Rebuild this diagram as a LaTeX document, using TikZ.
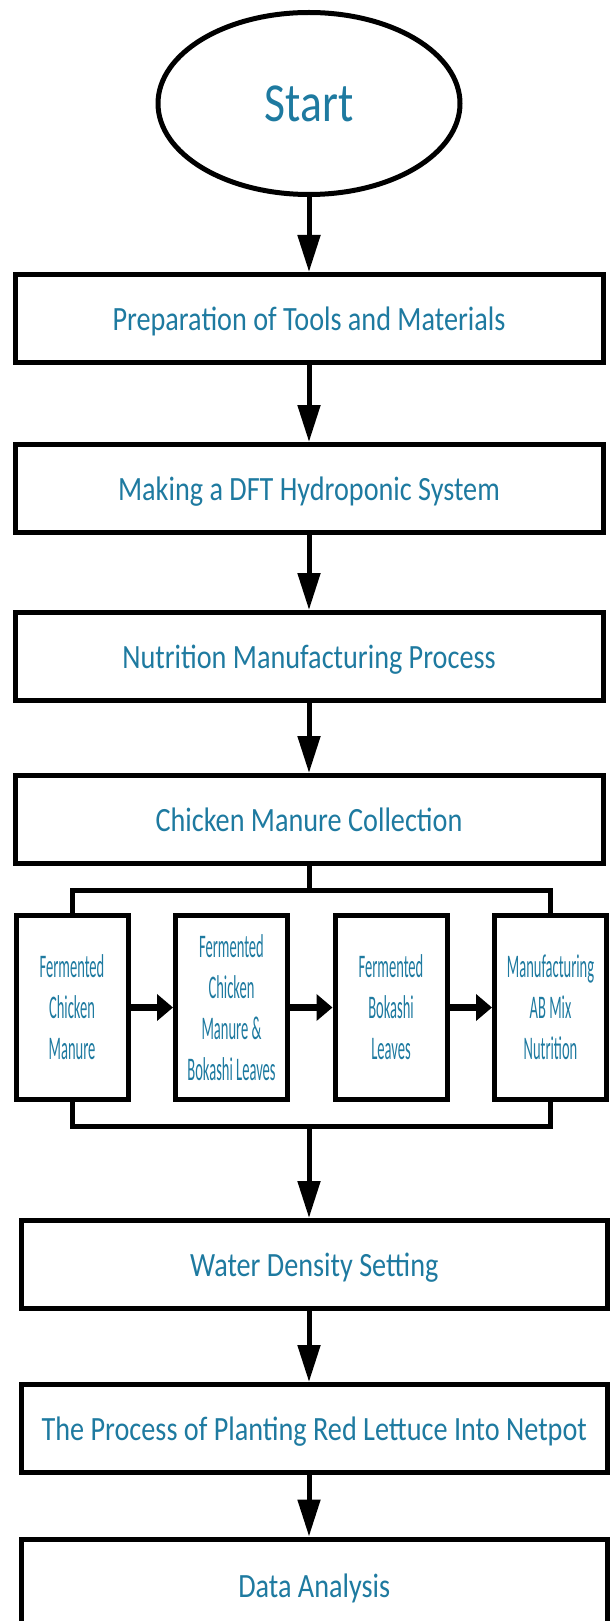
\documentclass[tikz,border=0pt]{standalone}
\usepackage{fontspec}
\usepackage{tikz}
\usetikzlibrary{positioning, arrows.meta, shapes.geometric}
\setmainfont{Carlito}[FakeStretch=0.83]
\newfontfamily\narrowfont{Carlito}[FakeStretch=0.44]
\definecolor{textblue}{RGB}{30,122,160}

\begin{document}
\begin{tikzpicture}[
    x=1pt, y=-1pt,
    mainbox/.style={rectangle, draw=black, line width=5pt, minimum width=588pt, minimum height=88pt, inner sep=0pt, text depth=0pt, text=textblue, font=\fontsize{34}{41}\selectfont},
    lowbox/.style={mainbox, minimum width=585.5pt},
    smallbox/.style={rectangle, draw=black, line width=5pt, minimum width=112pt, minimum height=184pt, inner sep=0pt, align=center, text=textblue, font=\narrowfont\fontsize{33}{41}\selectfont},
    arrow/.style={-{Triangle[length=37pt, width=22pt]}, line width=5pt},
    sidearrow/.style={-{Triangle[length=16pt, width=26pt]}, line width=7pt},
    bar/.style={line width=5pt}
]
\useasboundingbox (0,0) rectangle (610,1621);

\node[ellipse, draw=black, line width=5pt, minimum width=302pt, minimum height=182pt, inner sep=0pt, text=textblue, font=\fontsize{55}{60}\selectfont] (start) at (309,103.5) {Start};
\node[mainbox, below=75pt of start] (prep) {Preparation of Tools and Materials};
\node[mainbox, below=77pt of prep] (dft) {Making a DFT Hydroponic System};
\node[mainbox, below=75pt of dft] (nutri) {Nutrition Manufacturing Process};
\node[mainbox, below=70pt of nutri] (coll) {Chicken Manure Collection};

% fermentation row
\node[smallbox] (fcm) at (72,1007.5) {Fermented\\Chicken\\Manure};
\node[smallbox, right=42.5pt of fcm] (fcb) {Fermented\\Chicken\\Manure \&\\Bokashi Leaves};
\node[smallbox, right=42.5pt of fcb] (fbl) {Fermented\\Bokashi\\Leaves};
\node[smallbox, right=42.5pt of fbl] (mab) {Manufacturing\\AB Mix\\Nutrition};

\coordinate (topbar) at (309,890);
\coordinate (botbar) at (309,1126);

\node[lowbox] (water) at (314.25,1264.5) {Water Density Setting};
\node[lowbox, minimum height=87.5pt, below=71pt of water] (plant) {The Process of Planting Red Lettuce Into Netpot};
\node[lowbox, minimum height=93pt, below=62pt of plant] (data) {Data Analysis};

\draw[arrow] (start) -- (prep);
\draw[arrow] (prep) -- (dft);
\draw[arrow] (dft) -- (nutri);
\draw[arrow] (nutri) -- (coll);

\draw[bar] (coll.south) -- (topbar);
\draw[bar] (fcm.north) |- (topbar) -| (mab.north);
\draw[sidearrow] (fcm) -- (fcb);
\draw[sidearrow] (fcb) -- (fbl);
\draw[sidearrow] (fbl) -- (mab);
\draw[bar] (fcm.south) |- (botbar) -| (mab.south);

\draw[arrow] (botbar) -- (water.north -| botbar);
\draw[arrow] (water.south -| botbar) -- (plant.north -| botbar);
\draw[arrow] (plant.south -| botbar) -- (data.north -| botbar);

\end{tikzpicture}
\end{document}
